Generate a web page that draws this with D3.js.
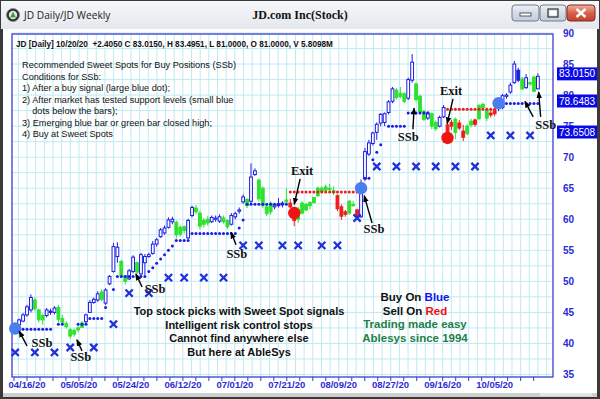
<!DOCTYPE html>
<html>
<head>
<meta charset="utf-8">
<script src="https://cdn.jsdelivr.net/npm/d3@7/dist/d3.min.js"></script>
<style>
  html, body { margin: 0; padding: 0; background: #fff; overflow: hidden; }
  svg { display: block; }
</style>
</head>
<body>
<svg id="chart" width="600" height="399"></svg>
<script>
// JD daily bars, 04/13/20 - 10/20/20 (one entry per trading day)
const opens = [42.5,43.0,43.6,44.6,45.4,47.0,45.4,43.8,44.5,45.2,
  45.0,45.8,44.0,43.2,42.2,41.5,42.2,42.6,43.5,45.0,
  46.6,47.0,48.3,46.5,49.6,51.6,54.0,53.2,50.9,50.4,
  51.6,53.0,51.2,53.0,54.0,54.5,56.0,57.2,57.8,58.7,
  59.6,59.5,57.6,58.8,57.0,60.6,61.8,61.0,59.2,60.0,
  59.6,60.0,59.7,60.2,59.8,59.2,60.4,61.3,62.8,63.2,
  62.9,67.2,66.3,65.0,62.0,61.2,62.0,62.2,62.4,62.8,
  62.6,61.6,60.0,61.0,61.5,62.2,62.7,63.8,64.5,64.7,
  65.0,64.6,63.8,62.0,60.8,61.0,62.4,61.5,60.4,66.5,
  70.5,72.2,74.0,75.5,75.6,77.2,79.0,80.8,79.8,80.2,
  79.5,82.4,81.8,79.8,77.4,76.3,77.0,75.6,75.0,76.5,
  75.2,75.0,74.0,75.5,74.2,73.8,75.2,75.3,76.2,78.0,
  77.6,77.1,77.0,77.8,78.0,79.8,80.5,82.0,84.0,82.6,
  81.2,82.0,82.9,81.0];
const highs = [43.2,44.0,44.9,46.2,47.9,47.4,45.6,44.8,45.7,45.6,
  46.0,46.2,44.6,43.6,42.5,42.4,42.8,43.6,44.8,47.0,
  47.4,48.4,48.7,48.9,51.0,56.2,56.3,53.5,51.0,52.0,
  54.2,53.2,54.6,54.4,54.6,56.5,57.0,58.6,59.0,60.3,
  60.4,59.8,59.0,59.0,60.1,62.2,62.3,61.4,60.2,60.5,
  60.6,60.6,60.8,60.6,60.0,61.0,61.2,61.9,64.0,63.4,
  69.0,68.2,66.6,65.3,62.4,62.9,62.6,63.4,62.9,65.0,
  63.3,62.0,62.0,62.9,62.6,62.9,63.6,65.3,65.3,65.6,
  65.7,65.3,64.0,62.4,61.5,63.1,63.0,61.7,66.4,71.5,
  72.8,74.1,75.6,77.1,77.2,79.2,81.3,81.1,81.3,80.5,
  82.8,86.6,82.0,80.1,77.6,77.4,77.2,75.9,76.7,78.4,
  75.6,76.0,76.4,76.0,75.2,75.3,76.2,76.2,78.6,78.8,
  78.0,77.9,78.0,79.0,80.2,80.3,82.0,85.5,84.4,82.9,
  83.4,82.2,83.1,83.4951];
const lows = [42.0,42.8,43.4,44.3,45.0,45.2,43.4,43.0,44.2,44.6,
  44.7,43.4,43.0,42.4,40.8,41.1,41.8,42.5,43.3,44.9,
  46.4,46.7,46.8,46.2,49.4,51.4,53.0,50.5,49.5,50.2,
  51.3,51.2,50.8,51.0,53.8,54.3,55.6,57.0,57.5,58.5,
  59.2,56.9,57.2,57.7,56.8,60.3,60.8,58.4,58.7,59.0,
  59.4,59.6,59.4,59.3,58.4,59.0,60.0,60.9,62.5,61.8,
  62.6,67.0,62.9,61.8,60.5,60.7,61.6,61.9,61.9,62.4,
  61.8,58.9,59.4,60.8,61.3,61.6,62.5,63.6,64.2,64.4,
  64.5,63.9,61.3,59.9,60.4,60.7,62.0,59.9,60.2,66.2,
  70.2,71.9,72.8,75.0,75.0,76.9,78.7,79.3,79.5,78.7,
  79.2,82.0,78.9,76.9,75.8,76.0,74.5,74.2,74.8,76.3,
  73.5,74.4,72.9,74.4,72.6,73.5,74.8,74.9,76.0,77.6,
  75.8,76.4,76.6,77.4,77.7,79.4,80.2,81.8,82.1,80.8,
  81.0,81.5,80.5,81.0];
const closes = [43.0,43.8,44.6,45.9,47.4,45.6,43.8,44.5,45.4,45.0,
  45.7,43.9,43.4,42.7,41.2,42.1,42.5,43.3,44.6,46.6,
  47.1,48.0,47.1,48.6,50.8,55.6,55.5,50.9,50.0,51.7,
  53.9,51.5,54.3,54.0,54.3,56.0,56.7,58.3,58.6,59.9,
  60.0,57.5,58.7,58.2,59.8,61.9,61.2,58.9,59.8,59.4,
  60.3,60.2,60.4,59.6,58.8,60.6,60.9,61.5,63.6,62.2,
  66.8,67.8,63.3,62.2,60.9,62.6,62.3,62.5,62.6,63.1,
  62.0,59.8,61.6,62.6,62.4,62.7,63.5,65.0,65.0,65.2,
  64.8,64.3,61.7,60.5,61.2,62.9,62.2,60.4,65.8,70.9,
  72.3,73.9,75.3,76.9,77.0,78.9,81.0,79.6,80.3,79.0,
  82.5,85.3,79.3,77.3,76.1,77.1,75.0,74.6,76.4,78.0,
  73.9,75.6,76.1,74.7,73.2,75.0,75.8,76.0,78.3,78.5,
  76.3,76.8,77.5,78.6,79.9,80.0,81.6,85.0,82.4,81.0,
  82.8,81.8,80.61,83.015];

// bar colouring state: b = buy (blue), g = holding (green), r = sell (red)
const barState = ("bbbbb" + "ggg" + "bbb" + "ggggggg" + "bbbb" + "g" + "bbbb" + "gg" + "bb" + "g" +
  "bbbbbbbbb" + "ggg" + "bb" + "gggg" + "bbb" + "gg" + "bbbb" + "g" + "bb" + "gggg" + "bbb" + "g" +
  "rr" + "gggggggggg" + "rrr" + "gg" + "r" + "bbbbbbbbb" + "ggg" + "bb" + "ggg" + "b" + "gg" + "bb" +
  "rr" + "g" + "rr" + "gg" + "r" + "ggg" + "rr" + "bbbbbb" + "g" + "b" + "gg" + "b").split("");

// support (blue) and resistance (red) stop levels: [first bar, last bar, level]
const buyStopSegments = [[2,9,42.3],[11,12,43.1],[16,18,43.1],[19,22,44.0],[23,23,45.8],[25,25,48.7],
  [26,33,50.8],[34,34,51.6],[35,35,52.2],[36,36,52.9],[37,37,53.6],[38,38,54.3],[39,39,55.0],[40,40,55.7],
  [41,44,56.6],[45,56,57.7],[57,57,58.6],[58,58,59.9],[59,69,62.4],[89,90,66.6],[91,91,69.6],
  [92,92,70.8],[93,93,72.0],[95,99,75.0],[100,105,77.1],[124,133,78.6483]];
const sellStopSegments = [[70,87,64.4],[110,122,77.7]];

// risk-control stop marks: [bar, level]
const stopMarks = [[0,38.55],[5,38.55],[10,38.55],[14,39.35],[20,39.35],[25,43.1],[29,48.1],[34,48.1],
  [39,50.6],[43,50.6],[48,50.6],[53,50.6],[58,55.8],[62,55.8],[68,55.8],[72,55.8],[78,55.8],[82,55.8],
  [87,60.2],[92,68.5],[97,68.5],[102,68.5],[107,68.5],[112,68.5],[117,68.5],[121,73.5],[126,73.5],[131,73.5]];

const buySignals = [[0,42.4],[88,65.0],[123,78.7]];
const exitSignals = [[71,61.0],[110,73.1]];

// date labels and the bar positions they sit at
const dateLabels = ["04/16/20","05/05/20","05/24/20","06/12/20","07/01/20","07/21/20","08/09/20","08/27/20","09/16/20","10/05/20"];
const dateLabelBars = [3, 16.2, 29.4, 42.7, 55.9, 69.1, 82.3, 95.5, 108.8, 122.0];
const priceTicks = [35,40,45,50,55,60,65,70,75,80,85,90];
const priceFlags = [83.0150, 78.6483, 73.6508];

// chart callouts: label anchor [bar, price] and arrows [from, to]
const callouts = [
  {text:"SSb", at:[6.8,39.4], arrows:[[[3.0,39.6],[1.0,42.0]]]},
  {text:"SSb", at:[16.7,37.2], arrows:[[[17.0,38.8],[15.7,40.6]]]},
  {text:"SSb", at:[35.6,48.1], arrows:[[[32.3,49.1],[30.7,51.2]]]},
  {text:"SSb", at:[56.4,53.8], arrows:[[[56.2,55.9],[54.9,57.9]]]},
  {text:"SSb", at:[91.3,57.8], arrows:[[[90.8,59.4],[88.8,63.8]]]},
  {text:"SSb", at:[100.0,72.6], arrows:[[[101.2,74.5],[101.5,77.9]]]},
  {text:"SSb", at:[135.0,74.6], arrows:[[[131.8,76.5],[129.7,79.0]],[[133.7,76.5],[133.2,80.5]]]},
  {text:"Exit", at:[73.0,67.1], arrows:[[[72.5,66.5],[71.0,62.4]]]},
  {text:"Exit", at:[110.9,80.0], arrows:[[[111.4,79.4],[109.9,75.4]]]}
];

const headerText = "JD [Daily] 10/20/20  +2.4050 C 83.0150, H 83.4951, L 81.0000, O 81.0000, V 5.8098M";
const notesText = ["Recommended Sweet Spots for Buy Positions (SSb)", "Conditions for SSb:",
  "1) After a buy signal (large blue dot);", "2) After market has tested support levels (small blue",
  "    dots below the bars);", "3) Emerging blue bar or green bar closed high;", "4) Buy at Sweet Spots"];
const promoText = ["Top stock picks with Sweet Spot signals", "Intelligent risk control stops",
  "Cannot find anywhere else", "But here at AbleSys"];

// ---------------------------------------------------------------
const svg = d3.select("#chart");
const sans = "'Liberation Sans', Arial, sans-serif";
const serif = "'Liberation Serif', 'Times New Roman', serif";

const defs = svg.append("defs");
const tb = defs.append("linearGradient").attr("id","titlebar").attr("x1",0).attr("y1",0).attr("x2",0).attr("y2",1);
tb.append("stop").attr("offset","0%").attr("stop-color","#f5f7f9");
tb.append("stop").attr("offset","100%").attr("stop-color","#e4e8ed");
const bg = defs.append("linearGradient").attr("id","btn").attr("x1",0).attr("y1",0).attr("x2",0).attr("y2",1);
bg.append("stop").attr("offset","0%").attr("stop-color","#eef2f7");
bg.append("stop").attr("offset","50%").attr("stop-color","#d3dbe5");
bg.append("stop").attr("offset","100%").attr("stop-color","#c3ceda");
const rg = defs.append("linearGradient").attr("id","btnClose").attr("x1",0).attr("y1",0).attr("x2",0).attr("y2",1);
rg.append("stop").attr("offset","0%").attr("stop-color","#efb3a6");
rg.append("stop").attr("offset","50%").attr("stop-color","#d8614a");
rg.append("stop").attr("offset","100%").attr("stop-color","#c0412b");
defs.append("marker").attr("id","arrowHead").attr("viewBox","0 0 10 10")
  .attr("refX",9).attr("refY",5).attr("markerWidth",7).attr("markerHeight",7)
  .attr("markerUnits","userSpaceOnUse").attr("orient","auto")
  .append("path").attr("d","M0,1 L10,5 L0,9 Z").attr("fill","#000");

// window frame
svg.append("rect").attr("width",600).attr("height",399).attr("fill","#3a3a3a");
svg.append("rect").attr("x",1).attr("y",1).attr("width",598).attr("height",28).attr("fill","url(#titlebar)");
svg.append("rect").attr("x",3).attr("y",29).attr("width",594).attr("height",364).attr("fill","#fff");
svg.append("rect").attr("x",3).attr("y",393).attr("width",594).attr("height",4).attr("fill","#cfcfcf");
svg.append("rect").attr("x",540).attr("y",393).attr("width",52).attr("height",3).attr("fill","#e6e6e6");

// title bar content
svg.append("circle").attr("cx",13).attr("cy",15).attr("r",6.5).attr("fill","#2c2c2c").attr("stroke","#888").attr("stroke-width",0.8);
svg.append("circle").attr("cx",13).attr("cy",15).attr("r",4.2).attr("fill","#e8e8e8");
svg.append("path").attr("d","M13,11.5 L16,17.5 L10,17.5 Z").attr("fill","#3aa53a");
svg.append("text").attr("x",24).attr("y",19).attr("font-family","'Open Sans', 'Noto Sans', sans-serif")
  .attr("font-size",10.2).attr("fill","#222").text("JD Daily/JD Weekly");
svg.append("text").attr("x",300).attr("y",19).attr("text-anchor","middle").attr("font-family",serif)
  .attr("font-weight","bold").attr("font-size",12).attr("fill","#111").text("JD.com Inc(Stock)");

const btns = [{x:512,w:27,fill:"url(#btn)",stroke:"#6e7b8b"},{x:540,w:26,fill:"url(#btn)",stroke:"#6e7b8b"},{x:567,w:28,fill:"url(#btnClose)",stroke:"#7a2c22"}];
svg.selectAll(".winbtn").data(btns).join("rect").attr("class","winbtn")
  .attr("x",d=>d.x).attr("y",5).attr("width",d=>d.w).attr("height",16).attr("rx",3)
  .attr("fill",d=>d.fill).attr("stroke",d=>d.stroke).attr("stroke-width",1);
svg.append("rect").attr("x",520).attr("y",13).attr("width",11).attr("height",3).attr("fill","#fff").attr("stroke","#333").attr("stroke-width",0.8);
svg.append("rect").attr("x",548).attr("y",9).attr("width",10).attr("height",8).attr("fill","none").attr("stroke","#333").attr("stroke-width",1.2);
svg.append("rect").attr("x",549.5).attr("y",11).attr("width",7).attr("height",4.5).attr("fill","#fff");
svg.append("path").attr("d","M576.5,9 L585.5,17 M585.5,9 L576.5,17").attr("stroke","#fff").attr("stroke-width",2.4);

// ---------------------------------------------------------------
const plot = {left:12, right:553, top:34, bottom:377};
const x = d3.scaleLinear().domain([0, 133]).range([15.2, 537.9]);
const y = d3.scaleLinear().domain([35, 90]).range([374.5, 33]);

// grid
const grid = svg.append("g");
const hGrid = d3.range(35, 90.01, 2.5);
grid.selectAll(".hg").data(hGrid).join("line")
  .attr("x1",plot.left).attr("x2",plot.right).attr("y1",d=>y(d)).attr("y2",d=>y(d))
  .attr("stroke","#bfeaf3").attr("stroke-width",1);
const gridStep = (dateLabelBars[9] - dateLabelBars[0]) / 9 / 6;
const vGrid = d3.range(dateLabelBars[0] - gridStep, 136, gridStep);
grid.selectAll(".vg").data(vGrid).join("line")
  .attr("x1",d=>x(d)).attr("x2",d=>x(d)).attr("y1",plot.top).attr("y2",plot.bottom)
  .attr("stroke","#bfeaf3").attr("stroke-width",1);

// frame
svg.append("rect").attr("x",plot.left).attr("y",plot.top).attr("width",plot.right-plot.left)
  .attr("height",plot.bottom-plot.top).attr("fill","none").attr("stroke","#3c3cd4").attr("stroke-width",1.3);

// x axis ticks and labels
const tickStep = gridStep * 6 / 4;
const xTicks = d3.range(dateLabelBars[0] - tickStep, 135, tickStep);
svg.selectAll(".xt").data(xTicks).join("line")
  .attr("x1",d=>x(d)).attr("x2",d=>x(d)).attr("y1",plot.bottom).attr("y2",plot.bottom+4)
  .attr("stroke","#3c3cd4").attr("stroke-width",1);
svg.selectAll(".xl").data(dateLabels).join("text")
  .attr("x",(d,i)=>x(dateLabelBars[i])).attr("y",387.5).attr("text-anchor","middle")
  .attr("font-family",sans).attr("font-weight","bold").attr("font-size",9.5).attr("fill","#2b2bd6").text(d=>d);

// y axis labels
svg.selectAll(".yl").data(priceTicks).join("text")
  .attr("x",563).attr("y",d=>y(d)+3.8).attr("font-family",sans).attr("font-weight","bold")
  .attr("font-size",10).attr("fill","#2b2bd6").text(d=>d);

// price flags
const flags = svg.selectAll(".flag").data(priceFlags).join("g").attr("transform",d=>`translate(557,${y(d)-2.5})`);
flags.append("rect").attr("x",0).attr("y",-6.5).attr("width",40).attr("height",13).attr("fill","#0a0ae8");
flags.append("text").attr("x",20).attr("y",3.6).attr("text-anchor","middle").attr("font-family",sans)
  .attr("font-size",10).attr("fill","#fff").text(d=>d.toFixed(4));

// ---------------------------------------------------------------
const colorOf = {b:"#1c1ce6", g:"#2ee22e", r:"#ee1c1c"};
const bars = opens.map((o,i)=>({i, o, h:highs[i], l:lows[i], c:closes[i], s:barState[i]}));
const candles = svg.append("g");
candles.selectAll(".wick").data(bars).join("line")
  .attr("x1",d=>x(d.i)).attr("x2",d=>x(d.i)).attr("y1",d=>y(d.h)).attr("y2",d=>y(d.l))
  .attr("stroke",d=>colorOf[d.s]).attr("stroke-width",1);
candles.selectAll(".body").data(bars).join("rect")
  .attr("x",d=>x(d.i)-1.4).attr("width",2.8)
  .attr("y",d=>y(Math.max(d.o,d.c))).attr("height",d=>Math.max(0.8, Math.abs(y(d.o)-y(d.c))))
  .attr("fill",d=>(d.s==="b" && d.c>d.o) ? "#fff" : colorOf[d.s])
  .attr("stroke",d=>colorOf[d.s]).attr("stroke-width",1);

// stop dots
function stopPoints(segs){
  const pts = [];
  segs.forEach(([a,b,v])=>{ for(let i=a;i<=b;i++) pts.push([i,v]); });
  return pts;
}
svg.append("g").selectAll("circle").data(stopPoints(buyStopSegments)).join("circle")
  .attr("cx",d=>x(d[0])).attr("cy",d=>y(d[1])).attr("r",1.5).attr("fill","#1c1ce6");
svg.append("g").selectAll("circle").data(stopPoints(sellStopSegments)).join("circle")
  .attr("cx",d=>x(d[0])).attr("cy",d=>y(d[1])).attr("r",1.5).attr("fill","#ee1c1c");

// stop marks
svg.append("g").selectAll("path").data(stopMarks).join("path")
  .attr("d",d=>{const cx=x(d[0]), cy=y(d[1]), s=3.6; return `M${cx-s},${cy-s}L${cx+s},${cy+s}M${cx+s},${cy-s}L${cx-s},${cy+s}`;})
  .attr("stroke","#2030dc").attr("stroke-width",2.3).attr("fill","none");

// signals
svg.append("g").selectAll("circle").data(buySignals).join("circle")
  .attr("cx",d=>x(d[0])).attr("cy",d=>y(d[1])).attr("r",6.2).attr("fill","#4a7df0");
svg.append("g").selectAll("circle").data(exitSignals).join("circle")
  .attr("cx",d=>x(d[0])).attr("cy",d=>y(d[1])).attr("r",6.2).attr("fill","#ee1414");

// callouts
const co = svg.append("g");
callouts.forEach(c=>{
  c.arrows.forEach(([f,t])=>{
    co.append("line").attr("x1",x(f[0])).attr("y1",y(f[1])).attr("x2",x(t[0])).attr("y2",y(t[1]))
      .attr("stroke","#000").attr("stroke-width",1.4).attr("marker-end","url(#arrowHead)");
  });
  co.append("text").attr("x",x(c.at[0])).attr("y",y(c.at[1])).attr("text-anchor","middle")
    .attr("font-family",serif).attr("font-weight","bold").attr("font-size",12.5).attr("fill","#111").text(c.text);
});

// header and notes
svg.append("text").attr("x",16).attr("y",47).attr("font-family",sans).attr("font-weight","bold")
  .attr("font-size",8.2).attr("fill","#111").attr("xml:space","preserve").text(headerText);
svg.append("g").selectAll("text").data(notesText).join("text")
  .attr("x",22).attr("y",(d,i)=>68+i*11.5).attr("font-family",sans).attr("font-size",9.2)
  .attr("fill","#111").attr("xml:space","preserve").text(d=>d);

svg.append("g").selectAll("text").data(promoText).join("text")
  .attr("x",239).attr("y",(d,i)=>315+i*13.6).attr("text-anchor","middle").attr("font-family",sans)
  .attr("font-weight","bold").attr("font-size",11).attr("fill","#111").text(d=>d);

const tagLines = [[["Buy On ","#111"],["Blue","#1010f0"]],[["Sell On ","#111"],["Red","#ee1010"]],
  [["Trading made easy","#1c8048"]],[["Ablesys since 1994","#1c8048"]]];
const tags = svg.append("g").selectAll("text").data(tagLines).join("text")
  .attr("x",415).attr("y",(d,i)=>301+i*13.6).attr("text-anchor","middle").attr("font-family",sans)
  .attr("font-weight","bold").attr("font-size",11.5);
tags.selectAll("tspan").data(d=>d).join("tspan").attr("fill",d=>d[1]).attr("xml:space","preserve").text(d=>d[0]);
</script>
</body>
</html>
